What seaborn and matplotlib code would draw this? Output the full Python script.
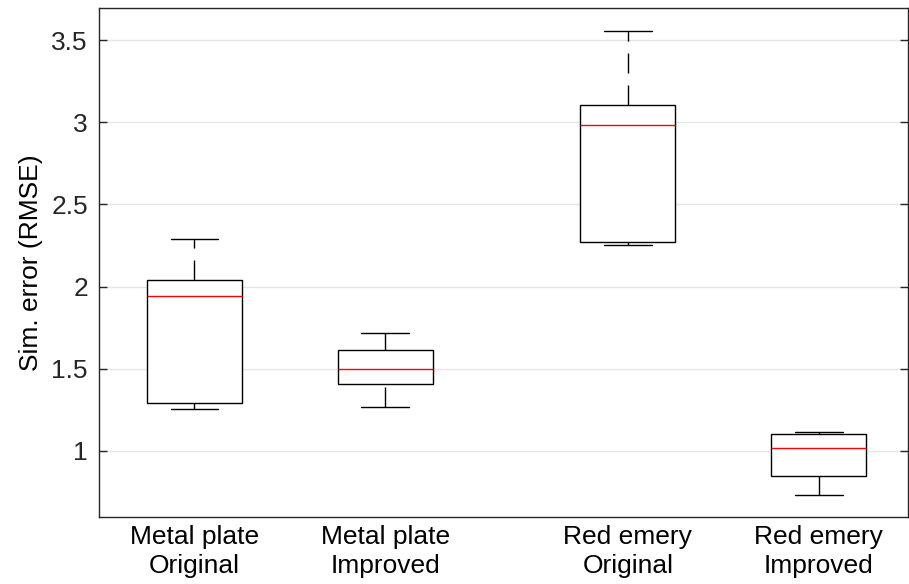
import matplotlib
matplotlib.use("Agg")
import matplotlib.pyplot as plt
import numpy as np
import pandas as pd
import seaborn as sns

# Five-number summaries (min, Q1, median, Q3, max) of the simulation RMSE
groups = ["Metal plate\nOriginal", "Metal plate\nImproved",
          "Red emery\nOriginal", "Red emery\nImproved"]
metal_original = [1.255, 1.292, 1.943, 2.040, 2.290]
metal_improved = [1.268, 1.409, 1.500, 1.614, 1.718]
emery_original = [2.255, 2.271, 2.983, 3.103, 3.555]
emery_improved = [0.732, 0.850, 1.016, 1.103, 1.114]
y_ticks = [1, 1.5, 2, 2.5, 3, 3.5]
y_tick_labels = ["1", "1.5", "2", "2.5", "3", "3.5"]

# x locations of the boxes (materials separated by a small gap)
slots = [1.0, 2.0, 3.27, 4.27]

records = []
for slot, values in zip(slots, [metal_original, metal_improved,
                                emery_original, emery_improved]):
    for v in values:
        records.append({"slot": slot, "rmse": v})
df = pd.DataFrame(records)

sns.set_style("white")
plt.rcParams["font.family"] = ["Liberation Sans", "DejaVu Sans"]

W, H = 909, 584
fig = plt.figure(figsize=(W / 100, H / 100), dpi=100)
left, right, top, bottom = 99, 908, 8, 517
ax = fig.add_axes([left / W, (H - bottom) / H, (right - left) / W, (bottom - top) / H])

lw = 1.0
sns.boxplot(
    data=df, x="slot", y="rmse", native_scale=True, width=0.5,
    color="white", linecolor="black", linewidth=lw, whis=1.5,
    showfliers=False, ax=ax,
    medianprops={"color": "#ff0000", "linewidth": lw},
    whiskerprops={"linestyle": (0, (14.4, 8.6)), "color": "black", "linewidth": lw},
    capprops={"color": "black", "linewidth": lw},
    boxprops={"edgecolor": "black", "facecolor": "white", "linewidth": lw},
)

# dash pattern of every whisker runs from its lower end upwards
for line in ax.lines:
    xd, yd = np.asarray(line.get_xdata(), float), np.asarray(line.get_ydata(), float)
    if len(xd) == 2 and np.isclose(xd[0], xd[1]):
        order = np.argsort(yd)
        line.set_data(xd[order], yd[order])

ax.set_xlim(0.5, 4.738)
ax.set_ylim(0.598, 3.695)
ax.set_yticks(y_ticks)
ax.set_yticklabels(y_tick_labels)
ax.set_xticks(slots)
ax.set_xticklabels(groups, linespacing=1.25)
ax.set_xlabel("")
ax.set_ylabel("Sim. error (RMSE)", fontsize=19, labelpad=6, color="black")

ax.yaxis.grid(True, color="#e6e6e6", linewidth=1.0)
ax.xaxis.grid(False)
ax.set_axisbelow(True)

for side in ["left", "right", "top", "bottom"]:
    ax.spines[side].set_visible(True)
    ax.spines[side].set_color("#262626")
    ax.spines[side].set_linewidth(1.0)

ax.tick_params(axis="y", which="both", direction="in", length=5.8, width=1.0,
               color="#262626", left=True, right=True, labelsize=19,
               labelcolor="#262626", pad=8)
ax.tick_params(axis="x", which="both", length=0, labelsize=19,
               labelcolor="black", pad=6)

fig.savefig("out.png", dpi=100)
